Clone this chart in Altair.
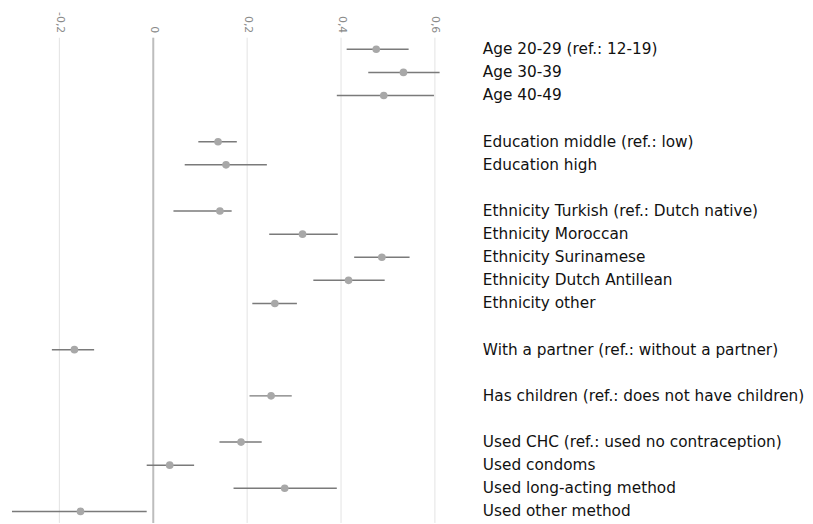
import altair as alt
import pandas as pd

labels = [
    "Age 20-29 (ref.: 12-19)", "Age 30-39", "Age 40-49",
    "Education middle (ref.: low)", "Education high",
    "Ethnicity Turkish (ref.: Dutch native)", "Ethnicity Moroccan",
    "Ethnicity Surinamese", "Ethnicity Dutch Antillean", "Ethnicity other",
    "With a partner (ref.: without a partner)",
    "Has children (ref.: does not have children)",
    "Used CHC (ref.: used no contraception)", "Used condoms",
    "Used long-acting method", "Used other method",
]
rows = [0, 1, 2, 4, 5, 7, 8, 9, 10, 11, 13, 15, 17, 18, 19, 20]
est = [0.475, 0.533, 0.491, 0.138, 0.155, 0.142, 0.318, 0.487, 0.416, 0.259,
       -0.168, 0.251, 0.187, 0.035, 0.280, -0.155]
lo = [0.412, 0.458, 0.391, 0.096, 0.067, 0.043, 0.247, 0.428, 0.341, 0.211,
      -0.216, 0.205, 0.141, -0.014, 0.171, -0.301]
hi = [0.544, 0.610, 0.598, 0.178, 0.242, 0.167, 0.393, 0.546, 0.493, 0.306,
      -0.126, 0.295, 0.231, 0.087, 0.391, -0.014]
ticks = [-0.2, 0, 0.2, 0.4, 0.6]

df = pd.DataFrame({"label": labels, "row": rows, "est": est, "lo": lo, "hi": hi})

xs = alt.Scale(domain=[-0.3, 0.62], nice=False, zero=False)
ys = alt.Scale(domain=[-0.5, 20.5], reverse=True, nice=False, zero=False)

base = alt.Chart(df)

grid = alt.Chart(pd.DataFrame({"t": ticks})).mark_rule(color="#e3e3e3", strokeWidth=1).encode(
    x=alt.X("t:Q", scale=xs, axis=alt.Axis(
        orient="top", values=ticks, labelAngle=90, labelAlign="right",
        labelBaseline="middle", labelPadding=5, ticks=False, domain=False,
        grid=False, labelColor="#8a8a8a", labelFontSize=11,
        labelFont="DejaVu Sans",
        labelExpr="replace(toString(datum.value), '.', ',')", title=None)),
)

zero = alt.Chart(pd.DataFrame({"z": [0]})).mark_rule(color="#bdbdbd", strokeWidth=2).encode(
    x=alt.X("z:Q", scale=xs),
)

ci = base.mark_rule(color="#7a7a7a", strokeWidth=1.5).encode(
    x=alt.X("lo:Q", scale=xs),
    x2="hi:Q",
    y=alt.Y("row:Q", scale=ys, axis=None),
)

pts = base.mark_circle(color="#a8a8a8", size=60, opacity=1).encode(
    x=alt.X("est:Q", scale=xs),
    y=alt.Y("row:Q", scale=ys, axis=None),
)

txt = base.mark_text(align="left", baseline="middle", font="DejaVu Sans",
                     fontSize=15.5, color="#111111").encode(
    x=alt.value(476),
    y=alt.Y("row:Q", scale=ys, axis=None),
    text="label:N",
)

chart = alt.layer(grid, zero, ci, pts, txt).properties(
    width=437, height=491,
    padding={"left": 2.5, "top": 0, "right": 0, "bottom": 0},
).configure_view(stroke=None)

chart.save("out.html", embed_options={"renderer": "svg", "actions": False})
